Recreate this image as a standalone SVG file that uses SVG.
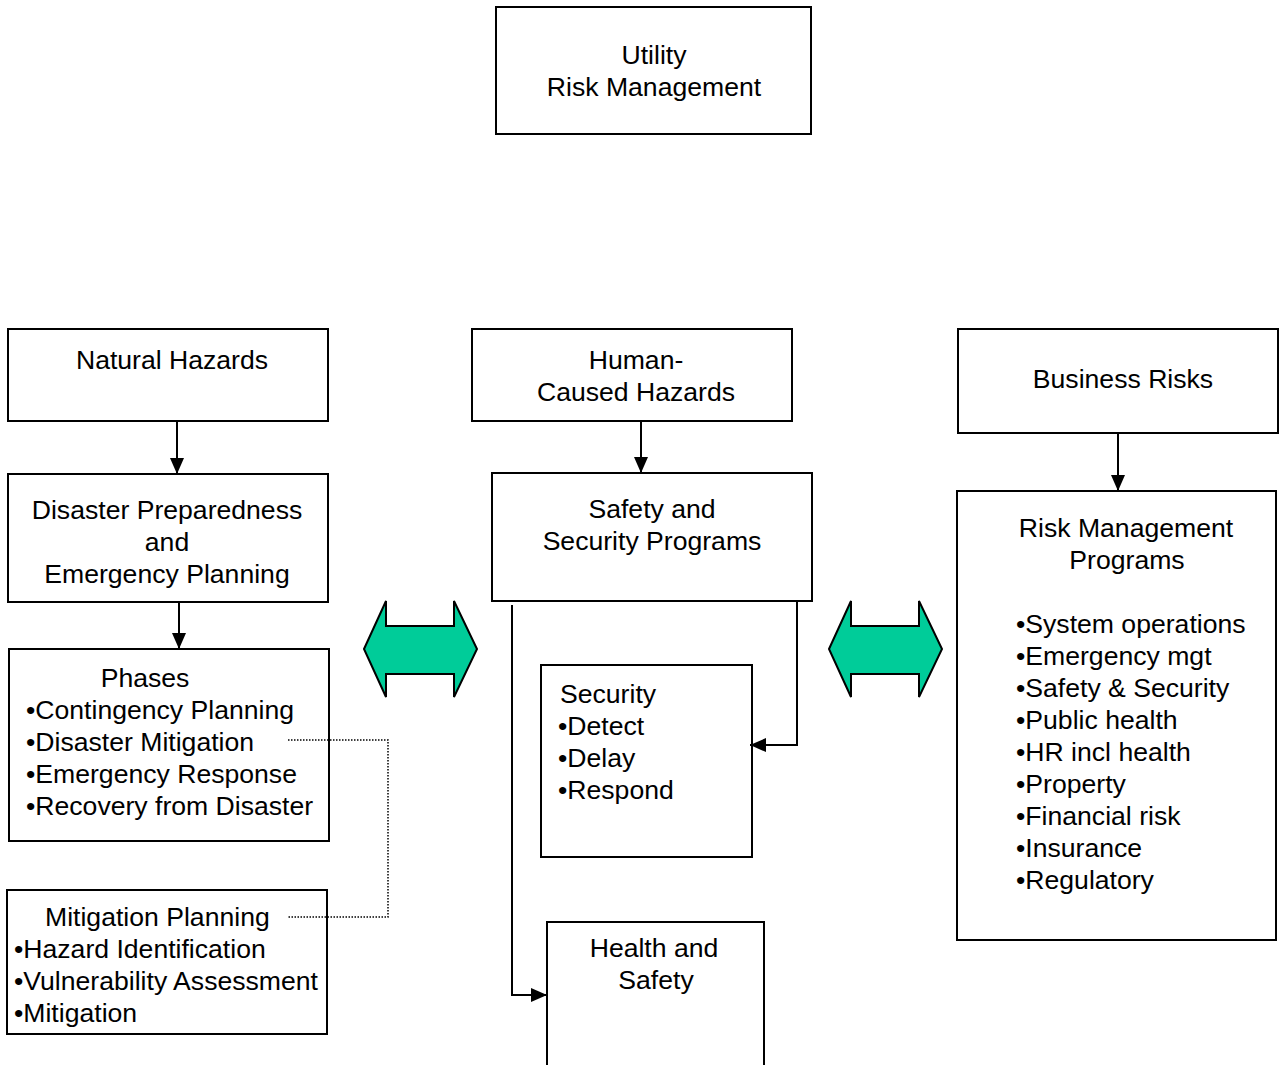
<svg xmlns="http://www.w3.org/2000/svg" width="1284" height="1065" viewBox="0 0 1284 1065">
<style>
.box{fill:#fff;stroke:#000;stroke-width:2}
text{font-family:"Liberation Sans",Arial,sans-serif;font-size:26.6px;fill:#000}
.c{text-anchor:middle}
.ln{fill:none;stroke:#000;stroke-width:2}
.dot{fill:none;stroke:#000;stroke-width:1.5;stroke-dasharray:1.5 1.5}
.dbl{fill:#00cc99;stroke:#000;stroke-width:2}
</style>
<defs>
<marker id="ah" markerWidth="16" markerHeight="14" refX="16" refY="7" orient="auto" markerUnits="userSpaceOnUse">
<path d="M0,0 L16,7 L0,14 Z" fill="#000"/>
</marker>
</defs>
<g id="utility"><rect class="box" x="496" y="7" width="315" height="127"/><text class="c" x="654" y="64">Utility</text><text class="c" x="654" y="96">Risk Management</text></g>
<g id="natural"><rect class="box" x="8" y="329" width="320" height="92"/><text class="c" x="172" y="369">Natural Hazards</text></g>
<g id="disaster"><rect class="box" x="8" y="474" width="320" height="128"/><text class="c" x="167" y="519">Disaster Preparedness</text><text class="c" x="167" y="551">and</text><text class="c" x="167" y="583">Emergency Planning</text></g>
<g id="phases"><rect class="box" x="9" y="649" width="320" height="192"/><text class="c" x="145" y="687">Phases</text><text x="26" y="719">•Contingency Planning</text><text x="26" y="751">•Disaster Mitigation</text><text x="26" y="783">•Emergency Response</text><text x="26" y="815">•Recovery from Disaster</text></g>
<g id="mitigation"><rect class="box" x="7" y="890" width="320" height="144"/><text x="45" y="926">Mitigation Planning</text><text x="14" y="958">•Hazard Identification</text><text x="14" y="990">•Vulnerability Assessment</text><text x="14" y="1022">•Mitigation</text></g>
<g id="human"><rect class="box" x="472" y="329" width="320" height="92"/><text class="c" x="636" y="369">Human-</text><text class="c" x="636" y="401">Caused Hazards</text></g>
<g id="safety"><rect class="box" x="492" y="473" width="320" height="128"/><text class="c" x="652" y="518">Safety and</text><text class="c" x="652" y="550">Security Programs</text></g>
<g id="security"><rect class="box" x="541" y="665" width="211" height="192"/><text x="560" y="703">Security</text><text x="558" y="735">•Detect</text><text x="558" y="767">•Delay</text><text x="558" y="799">•Respond</text></g>
<g id="health"><rect class="box" x="547" y="922" width="217" height="150"/><text class="c" x="654" y="957">Health and</text><text class="c" x="656" y="989">Safety</text></g>
<g id="business"><rect class="box" x="958" y="329" width="320" height="104"/><text class="c" x="1123" y="388">Business Risks</text></g>
<g id="rmp"><rect class="box" x="957" y="491" width="319" height="449"/><text class="c" x="1126" y="537">Risk Management</text><text class="c" x="1127" y="569">Programs</text>
<text x="1016" y="633">•System operations</text><text x="1016" y="665">•Emergency mgt</text><text x="1016" y="697">•Safety &amp; Security</text><text x="1016" y="729">•Public health</text><text x="1016" y="761">•HR incl health</text><text x="1016" y="793">•Property</text><text x="1016" y="825">•Financial risk</text><text x="1016" y="857">•Insurance</text><text x="1016" y="889">•Regulatory</text></g>
<g id="double-arrows">
<path class="dbl" d="M364,649 L386,601 L386,626 L454,626 L454,601 L477,649 L454,697 L454,674 L386,674 L386,697 Z"/>
<path class="dbl" d="M829,649 L851,601 L851,626 L919,626 L919,601 L942,649 L919,697 L919,674 L851,674 L851,697 Z"/>
</g>
<g id="connectors">
<path class="ln" d="M177,421 L177,474" marker-end="url(#ah)"/>
<path class="ln" d="M179,602 L179,649" marker-end="url(#ah)"/>
<path class="ln" d="M641,421 L641,473" marker-end="url(#ah)"/>
<path class="ln" d="M1118,433 L1118,491" marker-end="url(#ah)"/>
<path class="ln" d="M797,601 L797,745 L750,745" marker-end="url(#ah)"/>
<path class="ln" d="M512,605 L512,995 L547,995" marker-end="url(#ah)"/>
<path class="dot" d="M288,740 L388,740 L388,917 L287,917"/>
</g>
</svg>
